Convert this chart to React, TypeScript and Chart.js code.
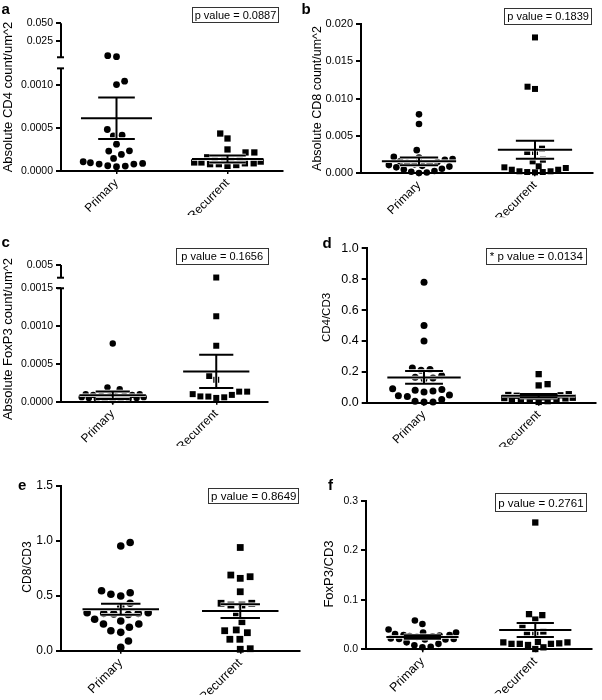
import React, { useEffect, useRef } from 'react';
import { Chart, LinearScale, registerables } from 'chart.js';

// ---------------- data ----------------
const GROUPS = ['Primary', 'Recurrent'];

// a: Absolute CD4 count/um^2
const cd4Primary = [0.0043, 0.0029, 0.00105, 0.00101, 0.000485, 0.000419, 0.00041, 0.000314, 0.000236, 0.000233, 0.000194, 0.000147, 0.000108, 0.0000965, 0.000089, 0.0000814, 0.0000814, 0.0000616, 0.000058, 0.00005];
const cd4Recurrent = [0.000438, 0.00038, 0.000252, 0.000217, 0.000217, 0.00016, 0.00015, 0.00014, 0.00013, 0.00012, 0.00011, 0.0001, 0.0001, 0.00009, 0.00009, 0.00008, 0.00008, 0.00007, 0.00006];
const cd4Mean = [0.000616, 0.00014];
const cd4Sem = [0.000243, 0.00004];
const cd4Ticks = [0, 0.0005, 0.001, 0.025, 0.05];
const cd4TickLabels = ['0.0000', '0.0005', '0.0010', '0.025', '0.050'];
const cd4AxisRanges = [[0, 0.0012], [0.002, 0.05]];

// b: Absolute CD8 count/um^2
const cd8Primary = [0.0079, 0.0066, 0.0031, 0.0022, 0.0021, 0.0019, 0.0018, 0.0016, 0.0015, 0.0014, 0.0013, 0.0012, 0.0011, 0.001, 0.0009, 0.0008, 0.0006, 0.0005, 0.0003, 0.0002, 0.0001, 0.00005];
const cd8Recurrent = [0.0182, 0.0116, 0.0113, 0.0033, 0.00285, 0.00285, 0.00182, 0.0016, 0.00094, 0.0008, 0.00071, 0.00048, 0.00048, 0.00027, 0.00027, 0.00017, 0.00017, 0.00013];
const cd8Mean = [0.0016, 0.00316];
const cd8Sem = [0.00052, 0.0012];
const cd8Ticks = [0, 0.005, 0.01, 0.015, 0.02];
const cd8TickLabels = ['0.000', '0.005', '0.010', '0.015', '0.020'];

// c: Absolute FoxP3 count/um^2
const foxp3Primary = [0.00077, 0.00019, 0.000164, 0.00011, 0.0001, 0.0001, 0.00009, 0.00009, 0.00008, 0.00008, 0.00007, 0.00007, 0.00006, 0.00006, 0.00005, 0.00005, 0.00004, 0.00004, 0.00003, 0.00003, 0.00002];
const foxp3Recurrent = [0.00165, 0.00113, 0.00074, 0.00034, 0.00029, 0.000133, 0.000133, 0.0001, 0.00009, 0.00007, 0.000068, 0.000058, 0.00005];
const foxp3Mean = [0.000085, 0.0004];
const foxp3Sem = [0.00005, 0.00022];
const foxp3Ticks = [0, 0.0005, 0.001, 0.0015, 0.005];
const foxp3TickLabels = ['0.0000', '0.0005', '0.0010', '0.0015', '0.005'];
const foxp3AxisRanges = [[0, 0.0015], [0.0016, 0.005]];

// d: CD4/CD3
const cd4cd3Primary = [0.78, 0.5, 0.4, 0.225, 0.215, 0.21, 0.175, 0.165, 0.16, 0.155, 0.09, 0.085, 0.08, 0.075, 0.07, 0.05, 0.045, 0.04, 0.02, 0.01, 0.005, 0.005];
const cd4cd3Recurrent = [0.185, 0.12, 0.112, 0.055, 0.05, 0.048, 0.045, 0.042, 0.04, 0.038, 0.035, 0.032, 0.03, 0.028, 0.025, 0.022, 0.02, 0.015, 0.01, 0.005];
const cd4cd3Mean = [0.164, 0.045];
const cd4cd3Sem = [0.042, 0.011];
const cd4cd3Ticks = [0, 0.2, 0.4, 0.6, 0.8, 1.0];
const cd4cd3TickLabels = ['0.0', '0.2', '0.4', '0.6', '0.8', '1.0'];

// e: CD8/CD3
const cd8cd3Primary = [0.985, 0.954, 0.546, 0.528, 0.514, 0.498, 0.432, 0.4, 0.346, 0.345, 0.34, 0.34, 0.335, 0.33, 0.286, 0.27, 0.243, 0.243, 0.213, 0.182, 0.167, 0.088, 0.03];
const cd8cd3Recurrent = [0.94, 0.689, 0.674, 0.659, 0.537, 0.432, 0.432, 0.416, 0.416, 0.34, 0.264, 0.189, 0.182, 0.164, 0.104, 0.104, 0.018, 0.013];
const cd8cd3Mean = [0.378, 0.361];
const cd8cd3Sem = [0.05, 0.063];
const cd8cd3Ticks = [0, 0.5, 1.0, 1.5];
const cd8cd3TickLabels = ['0.0', '0.5', '1.0', '1.5'];

// f: FoxP3/CD3
const foxp3cd3Primary = [0.058, 0.051, 0.04, 0.034, 0.034, 0.031, 0.029, 0.029, 0.028, 0.027, 0.026, 0.025, 0.022, 0.021, 0.021, 0.02, 0.02, 0.014, 0.011, 0.008, 0.005, 0.004];
const foxp3cd3Recurrent = [0.256, 0.071, 0.069, 0.06, 0.046, 0.036, 0.032, 0.032, 0.015, 0.014, 0.014, 0.012, 0.011, 0.011, 0.011, 0.0087, 0.004, 0.0006];
const foxp3cd3Mean = [0.025, 0.039];
const foxp3cd3Sem = [0.0035, 0.014];
const foxp3cd3Ticks = [0, 0.1, 0.2, 0.3];
const foxp3cd3TickLabels = ['0.0', '0.1', '0.2', '0.3'];

const yTitles = ['Absolute CD4 count/um^2', 'Absolute CD8 count/um^2', 'Absolute FoxP3 count/um^2', 'CD4/CD3', 'CD8/CD3', 'FoxP3/CD3'];
const pValueTexts = ['p value = 0.0887', 'p value = 0.1839', 'p value = 0.1656', '* p value = 0.0134', 'p value = 0.8649', 'p value = 0.2761'];
const panelLetters = ['a', 'b', 'c', 'd', 'e', 'f'];

// ---------------- broken axis scale ----------------
type Seg = { v0: number; v1: number; f0: number; f1: number };
const BREAKS: Record<string, Seg[]> = {};

function fractionFor(segs: Seg[], v: number): number {
  for (let i = 0; i < segs.length; i++) {
    const s = segs[i];
    if (v <= s.v1 || i === segs.length - 1) {
      if (v >= s.v0 || i === 0) return s.f0 + ((v - s.v0) / (s.v1 - s.v0)) * (s.f1 - s.f0);
      const p = segs[i - 1];
      return p.f1 + ((v - p.v1) / (s.v0 - p.v1)) * (s.f0 - p.f1);
    }
  }
  return 0;
}

class BrokenLinearScale extends LinearScale {
  static id = 'brokenLinear';
  getPixelForValue(value: any) {
    if (value === null || value === undefined || Number.isNaN(+value)) return NaN;
    const segs = BREAKS[(this.options as any).breakKey];
    if (!segs) return super.getPixelForValue(value);
    return this.getPixelForDecimal(fractionFor(segs, +value));
  }
}

Chart.register(...registerables, BrokenLinearScale as any);

// ---------------- layout / style ----------------
const FONT = "'Liberation Sans', Arial, Helvetica, sans-serif";
const W = 602, H = 700;
const Y_W = 48, X_H = 44;
const MEAN_HALF = 0.32, CAP_HALF = 0.165, SWARM_HALF = 0.3;

type Panel = any;
const PANELS: Panel[] = [
  {
    series: [cd4Primary, cd4Recurrent], mean: cd4Mean, sem: cd4Sem, ticks: cd4Ticks, tickLabels: cd4TickLabels,
    max: 0.05, ranges: cd4AxisRanges, fracs: [[0, 0.695], [0.77, 1]],
    plot: { l: 61, t: 23.3, r: 283, b: 171 }, letterPos: [1.5, 14], box: [192, 7.3, 86, 15], pFont: 11,
    titlePos: [8, 97], titleFont: 13, tickFont: 10.5, xFont: 12, dot: 3.4, sq: 6.3, spacing: 8.8,
  },
  {
    series: [cd8Primary, cd8Recurrent], mean: cd8Mean, sem: cd8Sem, ticks: cd8Ticks, tickLabels: cd8TickLabels,
    max: 0.02,
    plot: { l: 361, t: 24, r: 593, b: 173.3 }, letterPos: [301.5, 14], box: [504.3, 8.3, 86.7, 15.7], pFont: 11,
    titlePos: [317.7, 98.5], titleFont: 12.5, tickFont: 11, xFont: 12, dot: 3.3, sq: 6, spacing: 7.8,
  },
  {
    series: [foxp3Primary, foxp3Recurrent], mean: foxp3Mean, sem: foxp3Sem, ticks: foxp3Ticks, tickLabels: foxp3TickLabels,
    max: 0.005, ranges: foxp3AxisRanges, fracs: [[0, 0.8296], [0.907, 1]],
    plot: { l: 61, t: 265, r: 268, b: 401.7 }, letterPos: [1.5, 247.3], box: [175.7, 248.3, 92, 15.7], pFont: 11,
    titlePos: [8.3, 339], titleFont: 13, tickFont: 10.5, xFont: 12, dot: 3.2, sq: 6, spacing: 8,
  },
  {
    series: [cd4cd3Primary, cd4cd3Recurrent], mean: cd4cd3Mean, sem: cd4cd3Sem, ticks: cd4cd3Ticks, tickLabels: cd4cd3TickLabels,
    max: 1.0,
    plot: { l: 366.7, t: 248.3, r: 596, b: 402.7 }, letterPos: [322.5, 248.3], box: [485.7, 248.3, 100.3, 15.7], pFont: 11.5,
    titlePos: [326.7, 317.5], titleFont: 11.5, tickFont: 12.5, xFont: 12, dot: 3.5, sq: 6.3, spacing: 9,
  },
  {
    series: [cd8cd3Primary, cd8cd3Recurrent], mean: cd8cd3Mean, sem: cd8cd3Sem, ticks: cd8cd3Ticks, tickLabels: cd8cd3TickLabels,
    max: 1.5,
    plot: { l: 61, t: 486, r: 300, b: 650.7 }, letterPos: [18, 490], box: [208.3, 488.3, 90, 15], pFont: 11.5,
    titlePos: [28, 567], titleFont: 12, tickFont: 12, xFont: 12.5, dot: 3.8, sq: 6.8, spacing: 10,
  },
  {
    series: [foxp3cd3Primary, foxp3cd3Recurrent], mean: foxp3cd3Mean, sem: foxp3cd3Sem, ticks: foxp3cd3Ticks, tickLabels: foxp3cd3TickLabels,
    max: 0.3,
    plot: { l: 366, t: 500.7, r: 591.7, b: 649.3 }, letterPos: [328, 490], box: [495, 493.3, 90.7, 18.4], pFont: 11.5,
    titlePos: [329, 574], titleFont: 13, tickFont: 10.5, xFont: 12.5, dot: 3.3, sq: 6.3, spacing: 8.3,
  },
];

// beeswarm in pixel space: lowest values first, nearest-to-centre free slot,
// limited to a maximum half width (points overlap when the column is full)
function swarm(ys: number[], d: number, maxHalf: number): number[] {
  const idx = ys.map((_, i) => i).sort((a, b) => ys[b] - ys[a]);
  const placed: { x: number; y: number }[] = [];
  const out = new Array(ys.length).fill(0);
  let flip = 1;
  for (const i of idx) {
    const y = ys[i];
    const near = placed.filter((q) => Math.abs(q.y - y) < d);
    const cands = [0];
    near.forEach((q) => {
      const w = Math.sqrt(d * d - (q.y - y) * (q.y - y));
      cands.push(q.x + w, q.x - w);
    });
    const free = cands.filter(
      (c) => Math.abs(c) <= maxHalf + 1e-6 && near.every((q) => (c - q.x) ** 2 + (q.y - y) ** 2 >= d * d - 1e-6)
    );
    let best = 0;
    if (free.length) {
      best = free[0];
      for (const c of free) {
        if (Math.abs(c) < Math.abs(best) - 1e-6) best = c;
        else if (Math.abs(Math.abs(c) - Math.abs(best)) <= 1e-6 && Math.sign(c) === flip) best = c;
      }
    } else {
      let bestScore = -Infinity;
      for (let x = -maxHalf; x <= maxHalf + 1e-6; x += 0.5) {
        const score = Math.min(...near.map((q) => Math.hypot(x - q.x, y - q.y)));
        if (score > bestScore + 1e-6 || (Math.abs(score - bestScore) <= 1e-6 && Math.abs(x) < Math.abs(best))) {
          bestScore = score;
          best = x;
        }
      }
    }
    if (Math.abs(best) > 1e-6) flip = -flip;
    placed.push({ x: best, y });
    out[i] = best;
  }
  return out;
}

function buildChart(canvas: HTMLCanvasElement, p: Panel, pi: number) {
  const key = 'panel' + pi;
  const broken = !!p.ranges;
  if (broken) {
    BREAKS[key] = p.ranges.map((r: number[], k: number) => ({ v0: r[0], v1: r[1], f0: p.fracs[k][0], f1: p.fracs[k][1] }));
  }
  const datasets: any[] = [];
  p.series.forEach((vals: number[], gi: number) => {
    datasets.push({
      data: vals.map((v) => ({ x: gi + 1, y: v })),
      pointStyle: gi === 0 ? 'circle' : 'rect',
      pointRadius: gi === 0 ? p.dot : p.sq / Math.SQRT2,
      backgroundColor: '#000',
      borderColor: '#000',
      pointBorderWidth: 0,
      showLine: false,
      order: 3,
      clip: false,
    });
  });
  p.mean.forEach((m: number, gi: number) => {
    const c = gi + 1;
    const s = p.sem[gi];
    const lines = [
      [c - MEAN_HALF, m, c + MEAN_HALF, m],
      [c, m - s, c, m + s],
      [c - CAP_HALF, m + s, c + CAP_HALF, m + s],
      [c - CAP_HALF, m - s, c + CAP_HALF, m - s],
    ];
    lines.forEach(([x0, y0, x1, y1]) => {
      const data = [{ x: x0, y: y0 }, { x: x1, y: y1 }];
      datasets.push({ data, showLine: true, borderColor: '#fff', borderWidth: 3.5, pointRadius: 0, order: 2, clip: false });
      datasets.push({ data, showLine: true, borderColor: '#000', borderWidth: 2, pointRadius: 0, order: 1, clip: false });
    });
  });

  const deco = {
    id: 'deco' + pi,
    afterDraw(chart: any) {
      const ctx = chart.ctx as CanvasRenderingContext2D;
      const ys = chart.scales.y;
      const left = chart.chartArea.left;
      ctx.save();
      ctx.strokeStyle = '#000';
      ctx.fillStyle = '#000';
      if (broken) {
        ctx.lineWidth = 2;
        BREAKS[key].forEach((s, k) => {
          const y0 = ys.getPixelForValue(s.v0);
          const y1 = ys.getPixelForValue(s.v1);
          ctx.beginPath();
          ctx.moveTo(left, y0 + (k === 0 ? 1 : 0));
          ctx.lineTo(left, y1);
          ctx.stroke();
          ctx.beginPath();
          if (k > 0) { ctx.moveTo(left - 4, y0); ctx.lineTo(left + 3, y0); }
          if (k < BREAKS[key].length - 1) { ctx.moveTo(left - 4, y1); ctx.lineTo(left + 3, y1); }
          ctx.stroke();
        });
      }
      // panel letter
      ctx.font = `bold 15px ${FONT}`;
      ctx.textAlign = 'left';
      ctx.textBaseline = 'alphabetic';
      ctx.fillText(panelLetters[pi], p.letterPos[0], p.letterPos[1]);
      // p value box
      const [bx, by, bw, bh] = p.box;
      ctx.lineWidth = 1;
      ctx.strokeStyle = '#333';
      ctx.strokeRect(Math.round(bx) + 0.5, Math.round(by) + 0.5, Math.round(bw), Math.round(bh));
      ctx.font = `${p.pFont}px ${FONT}`;
      ctx.textAlign = 'center';
      ctx.textBaseline = 'middle';
      ctx.fillText(pValueTexts[pi], bx + bw / 2 + 0.5, by + bh / 2 + 1);
      // y title
      ctx.translate(p.titlePos[0], p.titlePos[1]);
      ctx.rotate(-Math.PI / 2);
      ctx.font = `${p.titleFont}px ${FONT}`;
      ctx.fillText(yTitles[pi], 0, 0);
      ctx.restore();
    },
  };

  const chart = new Chart(canvas, {
    type: 'scatter',
    data: { datasets },
    options: {
      animation: false,
      responsive: false,
      maintainAspectRatio: false,
      devicePixelRatio: 1,
      events: [],
      layout: {
        padding: { left: p.plot.l - Y_W, top: p.plot.t, right: W - p.plot.r, bottom: H - p.plot.b - X_H },
      },
      plugins: { legend: { display: false }, tooltip: { enabled: false }, title: { display: false } },
      scales: {
        x: {
          type: 'linear',
          min: 0.5,
          max: 2.5,
          afterBuildTicks: (s: any) => { s.ticks = GROUPS.map((_, i) => ({ value: i + 1 })); },
          ticks: {
            autoSkip: false,
            minRotation: 45,
            maxRotation: 45,
            padding: 2,
            color: '#000',
            font: { family: FONT, size: p.xFont },
            callback: (_v: any, i: number) => GROUPS[i],
          },
          grid: { display: true, drawOnChartArea: false, drawTicks: true, tickLength: 3, color: '#000', lineWidth: 1.5 },
          border: { display: true, color: '#000', width: 2 },
          afterFit: (s: any) => { s.height = X_H; s.paddingLeft = 0; s.paddingRight = 0; },
        },
        y: {
          type: broken ? 'brokenLinear' : 'linear',
          breakKey: key,
          min: 0,
          max: p.max,
          afterBuildTicks: (s: any) => { s.ticks = p.ticks.map((v: number) => ({ value: v })); },
          ticks: {
            autoSkip: false,
            padding: 3,
            color: '#000',
            font: { family: FONT, size: p.tickFont },
            callback: (_v: any, i: number) => p.tickLabels[i],
          },
          grid: { display: true, drawOnChartArea: false, drawTicks: true, tickLength: 5, color: '#000', lineWidth: 2 },
          border: { display: !broken, color: '#000', width: 2 },
          afterFit: (s: any) => { s.width = Y_W; s.paddingTop = 0; s.paddingBottom = 0; },
        },
      } as any,
    },
    plugins: [deco],
  } as any);

  // place points in a beeswarm using the chart's own scales
  const xs: any = chart.scales.x;
  const ys: any = chart.scales.y;
  const unit = xs.getPixelForValue(2) - xs.getPixelForValue(1);
  p.series.forEach((vals: number[], gi: number) => {
    const offs = swarm(vals.map((v) => ys.getPixelForValue(v)), p.spacing, SWARM_HALF * unit);
    (chart.data.datasets[gi] as any).data = vals.map((v, k) => ({ x: gi + 1 + offs[k] / unit, y: v }));
  });
  chart.update();
  return chart;
}

export default function App() {
  const refs = useRef<(HTMLCanvasElement | null)[]>([]);
  useEffect(() => {
    const charts = PANELS.map((p, i) => buildChart(refs.current[i] as HTMLCanvasElement, p, i));
    return () => charts.forEach((c) => c.destroy());
  }, []);
  return (
    <div style={{ position: 'absolute', left: 0, top: 0, width: W, height: H, background: '#fff' }}>
      {PANELS.map((_, i) => (
        <canvas
          key={i}
          ref={(el) => { refs.current[i] = el; }}
          width={W}
          height={H}
          style={{ position: 'absolute', left: 0, top: 0, width: W, height: H }}
        />
      ))}
    </div>
  );
}
